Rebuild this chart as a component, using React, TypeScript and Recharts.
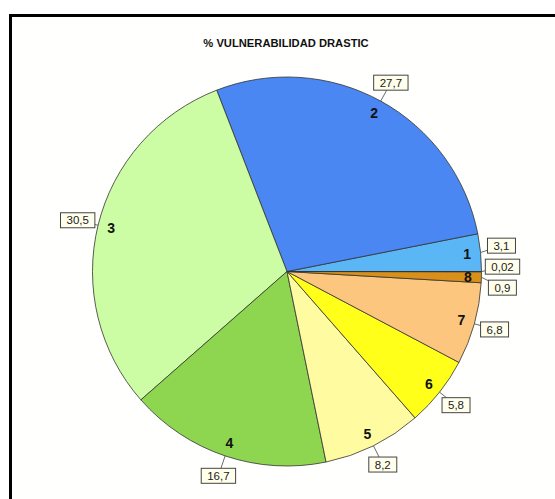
import React from 'react';
import { PieChart, Pie, Cell } from 'recharts';

const sliceNames = ['1', '2', '3', '4', '5', '6', '7', '8', ''];
const sliceValues = [3.1, 27.7, 30.5, 16.7, 8.2, 5.8, 6.8, 0.9, 0.02];
const sliceColors = ['#5BB6F5', '#4A87F2', '#CCFDA4', '#8FD650', '#FFFBA0', '#FFFF1A', '#FDC67E', '#D8901A', '#888888'];
const title = '% VULNERABILIDAD DRASTIC';

const data = sliceNames.map((n, i) => ({ name: n, value: sliceValues[i] }));

const W = 555;
const H = 499;
const CX = 287;
const CY = 271.5;
const R = 194.5;
const RAD = Math.PI / 180;
const LABEL_R = R + 21;
const NUM_R = 181;
const BOX_H = 15;
const MIN_GAP = 21;
const FS = 11.5;

const fmt = (v: number) => String(v).replace('.', ',');
const textWidth = (s: string) => {
  let w = 0;
  for (const ch of s) w += ch === ',' ? 0.278 * FS : 0.556 * FS;
  return w;
};

// mid angles computed the same way as the Pie (startAngle 0, counterclockwise)
const total = sliceValues.reduce((a, b) => a + b, 0);
const midAngles: number[] = [];
{
  let acc = 0;
  sliceValues.forEach((v) => {
    const a = (v / total) * 360;
    midAngles.push(acc + a / 2);
    acc += a;
  });
}

type Box = { x: number; y: number; oy: number; side: number; i: number };
const boxes: Box[] = midAngles.map((m, i) => {
  const x = CX + LABEL_R * Math.cos(-m * RAD);
  const y = CY + LABEL_R * Math.sin(-m * RAD);
  return { x, y, oy: y, side: Math.cos(-m * RAD) >= 0 ? 1 : -1, i };
});

function resolve(side: number) {
  const items = boxes.filter((b) => b.side === side).sort((a, b) => a.oy - b.oy);
  let clusters = items.map((b) => [b]);
  const place = (c: Box[]) => {
    const mean = c.reduce((s, b) => s + b.oy, 0) / c.length;
    c.forEach((b, k) => (b.y = mean + (k - (c.length - 1) / 2) * MIN_GAP));
  };
  clusters.forEach(place);
  let merged = true;
  while (merged) {
    merged = false;
    for (let k = 0; k < clusters.length - 1; k++) {
      const a = clusters[k];
      const b = clusters[k + 1];
      if (b[0].y - a[a.length - 1].y < MIN_GAP) {
        const c = [...a, ...b];
        place(c);
        clusters.splice(k, 2, c);
        merged = true;
        break;
      }
    }
  }
}
resolve(1);
resolve(-1);

const renderLabel = (props: any) => {
  const { index } = props;
  const m = midAngles[index];
  const b = boxes[index];
  const txt = fmt(sliceValues[index]);
  const bw = textWidth(txt) + 12;
  const px = CX + R * Math.cos(-m * RAD);
  const py = CY + R * Math.sin(-m * RAD);
  const dx = b.x - px;
  const dy = b.y - py;
  const tx = dx !== 0 ? 1 - bw / 2 / Math.abs(dx) : -Infinity;
  const ty = dy !== 0 ? 1 - BOX_H / 2 / Math.abs(dy) : -Infinity;
  const t = Math.max(tx, ty, 0);
  const ex = px + dx * t;
  const ey = py + dy * t;
  const nx = CX + NUM_R * Math.cos(-m * RAD);
  const ny = CY + NUM_R * Math.sin(-m * RAD);
  return (
    <g key={`lbl-${index}`}>
      <line x1={px} y1={py} x2={ex} y2={ey} stroke="#444" strokeWidth={0.8} />
      <rect x={b.x - bw / 2} y={b.y - BOX_H / 2} width={bw} height={BOX_H} fill="#FFFFEC" stroke="#444" strokeWidth={1} />
      <text x={b.x} y={b.y + 4.2} textAnchor="middle" fontFamily="Arial, 'Liberation Sans', sans-serif" fontSize={FS} fill="#222">
        {txt}
      </text>
      {sliceNames[index] && (
        <text x={nx} y={ny + 5} textAnchor="middle" fontFamily="Arial, 'Liberation Sans', sans-serif" fontSize={14} fontWeight="bold" fill="#111">
          {sliceNames[index]}
        </text>
      )}
    </g>
  );
};

export default function App() {
  return (
    <div style={{ position: 'absolute', left: 0, top: 0, width: W, height: H, overflow: 'hidden', background: '#fff' }}>
      <div
        style={{
          position: 'absolute',
          left: 9,
          top: 14,
          width: 560,
          height: 500,
          borderLeft: '3px solid #000',
          borderTop: '3px solid #000',
          background: '#FFFFFD',
        }}
      />
      <div
        style={{
          position: 'absolute',
          left: 0,
          top: 37,
          width: 572,
          textAlign: 'center',
          fontFamily: "Arial, 'Liberation Sans', sans-serif",
          fontWeight: 'bold',
          fontSize: 11.2,
          color: '#111',
        }}
      >
        {title}
      </div>
      <div style={{ position: 'absolute', left: 0, top: 0 }}>
        <PieChart width={W} height={H} margin={{ top: 0, right: 0, bottom: 0, left: 0 }}>
          <Pie
            data={data}
            dataKey="value"
            nameKey="name"
            cx={CX}
            cy={CY}
            outerRadius={R}
            startAngle={0}
            endAngle={360}
            stroke="#333"
            strokeWidth={0.8}
            label={renderLabel}
            labelLine={false}
            isAnimationActive={false}
          >
            {data.map((d, i) => (
              <Cell key={i} fill={sliceColors[i]} />
            ))}
          </Pie>
        </PieChart>
      </div>
    </div>
  );
}
